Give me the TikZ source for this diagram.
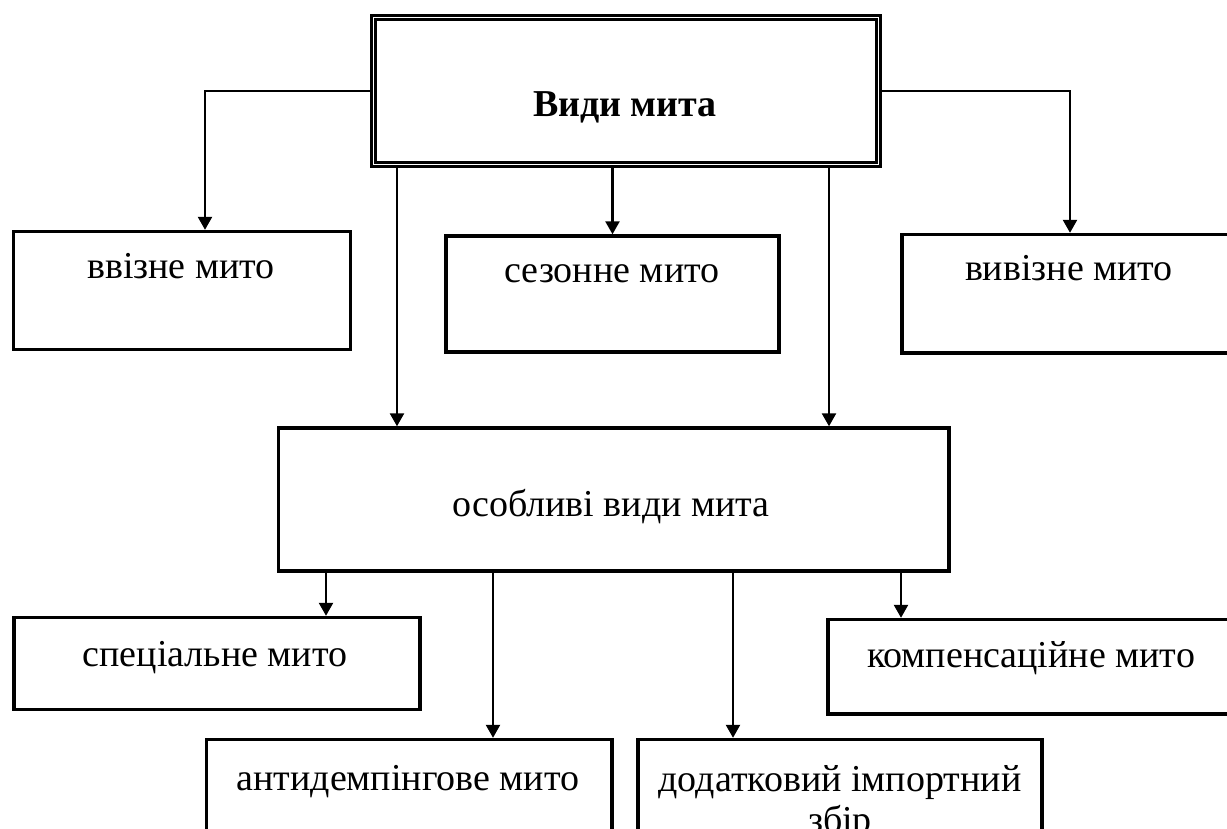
\documentclass[tikz,border=0pt]{standalone}
\usepackage{fontspec}
\setmainfont{Liberation Serif}
\usetikzlibrary{arrows.meta}
\tikzset{
  box/.style={draw, line width=3.4pt, rectangle, inner sep=0pt},
  lbl/.style={font=\fontsize{38}{42}\selectfont, inner sep=0pt, anchor=base},
  conn/.style={line width=2.4pt, -{Triangle[length=13pt,width=14pt]}},
}
\begin{document}
\begin{tikzpicture}[x=1pt,y=-1pt]
  \useasboundingbox (0,0) rectangle (1227,829);
  \clip (0,0) rectangle (1227,829);
  % boxes
  \node[box, minimum width=509pt, minimum height=151pt] (top) at (626,91) {};
  \draw[line width=2.6pt] ([shift={(5.5,5.5)}]top.north west) rectangle ([shift={(-5.5,-5.5)}]top.south east);
  \node[box, minimum width=337pt, minimum height=118pt] (vvizne) at (182,290.5) {};
  \node[box, minimum width=333pt, minimum height=116pt] (sez) at (612.5,294) {};
  \node[box, minimum width=338pt, minimum height=118.5pt] (vyvizne) at (1071,293.75) {};
  \node[box, minimum width=670.5pt, minimum height=143pt] (osob) at (613.75,499.5) {};
  \node[box, minimum width=406pt, minimum height=92pt] (spec) at (217,663.5) {};
  \node[box, minimum width=412pt, minimum height=94.5pt] (komp) at (1034,666.75) {};
  \node[box, minimum width=405.5pt, minimum height=160.5pt] (anti) at (409.25,819.75) {};
  \node[box, minimum width=404pt, minimum height=160.5pt] (dod) at (840,819.75) {};
  % labels
  \node[lbl, font=\fontsize{38}{42}\selectfont\bfseries] (tTop) at (625,117) {Види мита};
  \node[lbl] (tVv) at (181,279) {ввізне мито};
  \node[lbl] (tSez) at (612,283) {сезонне мито};
  \node[lbl] (tVy) at (1069,281) {вивізне мито};
  \node[lbl] (tOs) at (611,516) {особливі види мита};
  \node[lbl] (tSp) at (215,666) {спеціальне мито};
  \node[lbl] (tKo) at (1031,667) {компенсаційне мито};
  \node[lbl] (tAn) at (408,790) {антидемпінгове мито};
  \node[lbl] (tDo1) at (840,791) {додатковий імпортний};
  \node[lbl] (tDo2) at (840,832) {збір};
  % connector columns
  \coordinate (a1) at (205,0);
  \coordinate (a2) at (1070,0);
  \coordinate (a3) at (397,0);
  \coordinate (a4) at (829,0);
  \coordinate (b1) at (326,0);
  \coordinate (b2) at (493,0);
  \coordinate (b3) at (733,0);
  \coordinate (b4) at (901,0);
  % connectors
  \draw[conn] (top.west) -| (vvizne.north -| a1);
  \draw[conn] (top.east) -| (vyvizne.north -| a2);
  \draw[conn] (sez.north |- top.south) -- (sez.north);
  \draw[conn] (top.south -| a3) -- (osob.north -| a3);
  \draw[conn] (top.south -| a4) -- (osob.north -| a4);
  \draw[conn] (osob.south -| b1) -- (spec.north -| b1);
  \draw[conn] (osob.south -| b2) -- (anti.north -| b2);
  \draw[conn] (osob.south -| b3) -- (dod.north -| b3);
  \draw[conn] (osob.south -| b4) -- (komp.north -| b4);
\end{tikzpicture}
\end{document}
